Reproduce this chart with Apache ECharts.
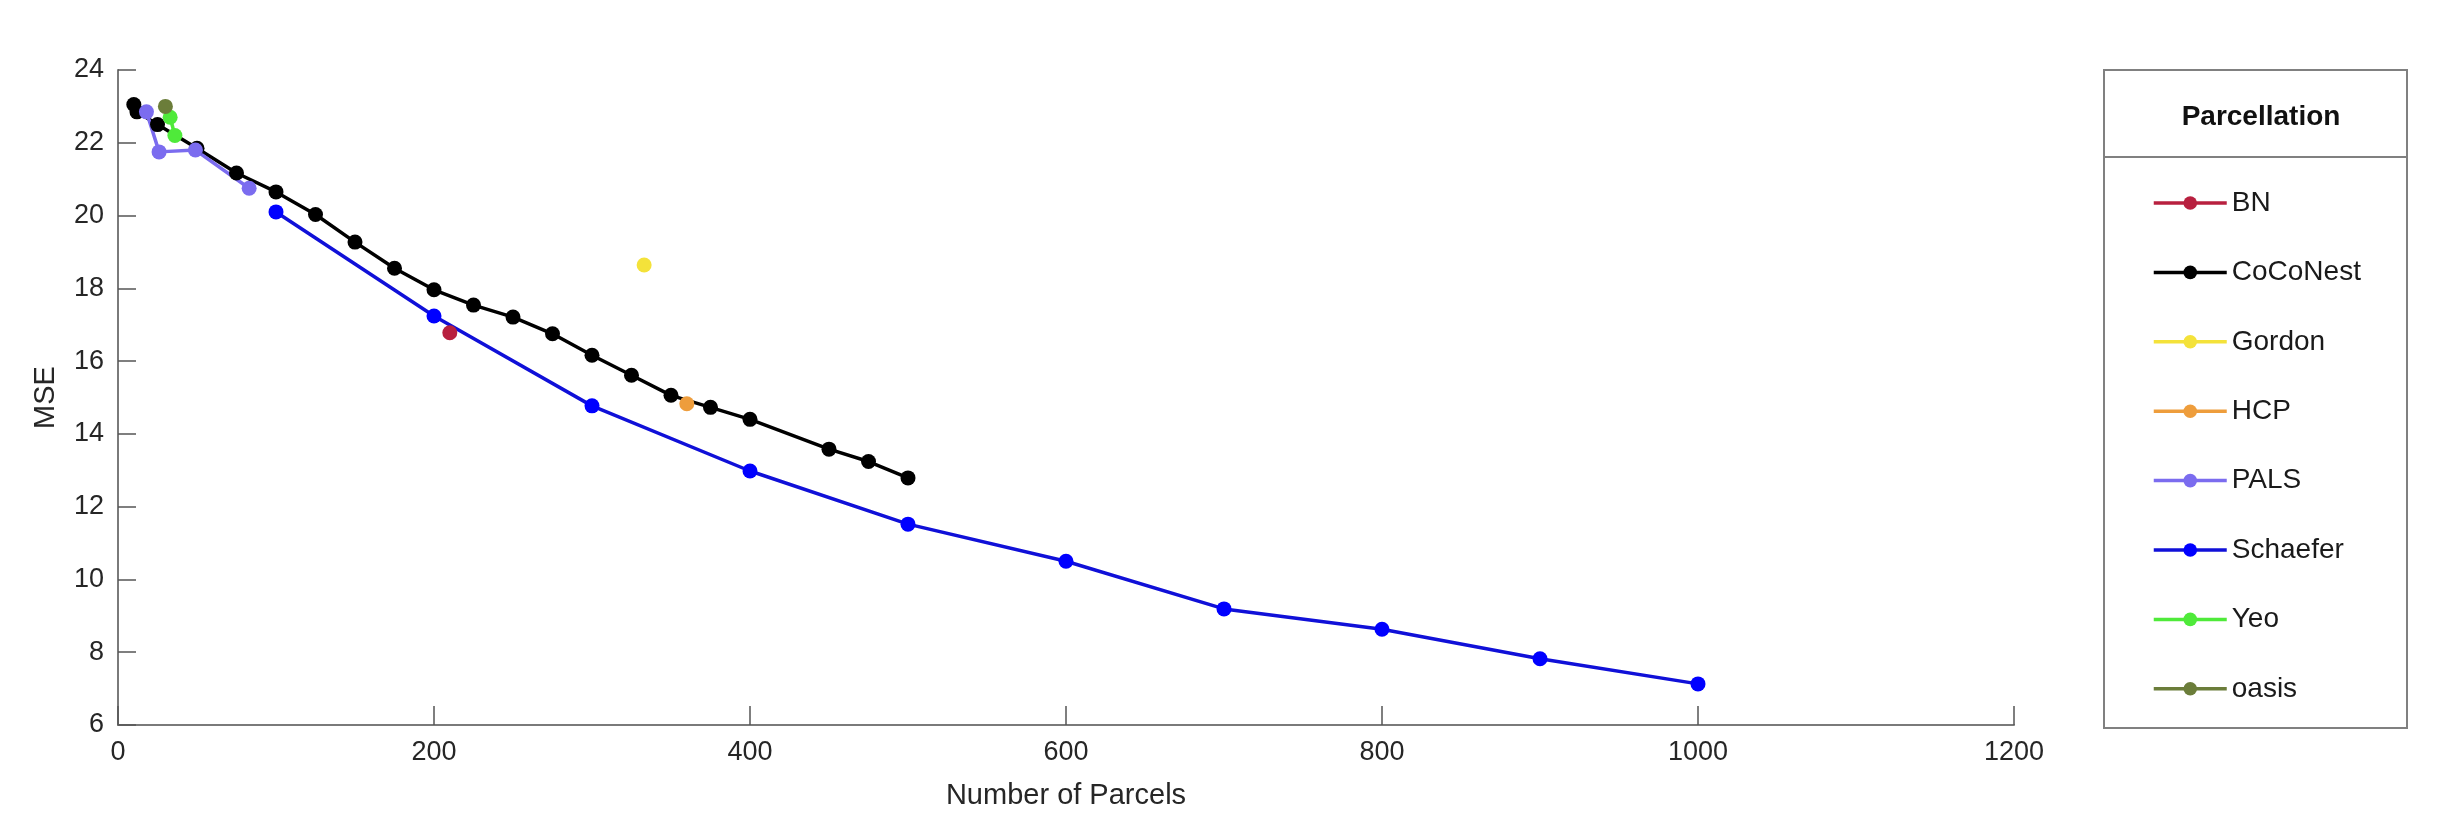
<!DOCTYPE html>
<html>
<head>
<meta charset="utf-8">
<script src="https://cdn.jsdelivr.net/npm/echarts@6/dist/echarts.min.js"></script>
<style>
  html, body { margin: 0; padding: 0; background: #fff; }
  #mse-chart { width: 2464px; height: 828px; }
</style>
</head>
<body>
<div id="mse-chart"></div>
<script>
// ==============================================================
// MSE vs number of parcels, per parcellation
// ==============================================================
var legendNames = ['BN', 'CoCoNest', 'Gordon', 'HCP', 'PALS', 'Schaefer', 'Yeo', 'oasis'];

var cocoX = [10, 12, 25, 50, 75, 100, 125, 150, 175, 200, 225, 250, 275, 300, 325, 350, 375, 400, 450, 475, 500];
var cocoY = [23.05, 22.85, 22.5, 21.85, 21.17, 20.65, 20.03, 19.27, 18.55, 17.96, 17.54, 17.21, 16.75, 16.16, 15.61, 15.06, 14.73, 14.4, 13.58, 13.24, 12.79];

var schaeferX = [100, 200, 300, 400, 500, 600, 700, 800, 900, 1000];
var schaeferY = [20.1, 17.24, 14.77, 12.98, 11.52, 10.5, 9.19, 8.63, 7.82, 7.13];

var palsX = [18, 26, 49, 83];
var palsY = [22.85, 21.75, 21.8, 20.75];

var yeoX = [33, 36];
var yeoY = [22.7, 22.2];

var bnX = [210], bnY = [16.78];
var gordonX = [333], gordonY = [18.64];
var hcpX = [360], hcpY = [14.83];
var oasisX = [30], oasisY = [23.0];

var xTicks = { min: 0, max: 1200, interval: 200 };
var yTicks = { min: 6, max: 24, interval: 2 };

function pairs(xs, ys) {
    return xs.map(function (x, i) { return [x, ys[i]]; });
}

function lineSeries(name, xs, ys, color) {
    return {
        name: name,
        type: 'line',
        data: pairs(xs, ys),
        symbol: 'circle',
        symbolSize: 15,
        showSymbol: true,
        lineStyle: { color: color, width: 3.5 },
        itemStyle: { color: color },
        emphasis: { disabled: true },
        animation: false
    };
}

var myChart = echarts.init(document.getElementById('mse-chart'));

var axisFont = 'Liberation Sans, Arial, Helvetica, sans-serif';

option = {
    backgroundColor: '#ffffff',
    title: {
        text: 'Parcellation',
        left: 2256,
        top: 98,
        textAlign: 'center',
        textStyle: { fontFamily: axisFont, fontSize: 28, fontWeight: 'bold', color: '#111' }
    },
    legend: {
        data: legendNames,
        orient: 'vertical',
        left: 2147,
        top: 184,
        itemWidth: 73,
        itemHeight: 17,
        itemGap: 41.4,
        lineStyle: { width: 3.5 },
        textStyle: { fontFamily: axisFont, fontSize: 28, color: '#1a1a1a' },
        selectedMode: false
    },
    graphic: [
        {
            type: 'rect',
            shape: { x: 2104, y: 70, width: 303, height: 658 },
            style: { fill: 'none', stroke: '#808080', lineWidth: 2 },
            silent: true
        },
        {
            type: 'line',
            shape: { x1: 2104, y1: 157, x2: 2407, y2: 157 },
            style: { stroke: '#808080', lineWidth: 2 },
            silent: true
        }
    ],
    grid: { left: 118, right: 450, top: 70, bottom: 103, containLabel: false },
    xAxis: {
        type: 'value',
        min: xTicks.min,
        max: xTicks.max,
        interval: xTicks.interval,
        name: 'Number of Parcels',
        nameLocation: 'middle',
        nameGap: 56,
        nameTextStyle: { fontFamily: axisFont, fontSize: 29, color: '#262626' },
        axisLine: { lineStyle: { color: '#7a7a7a', width: 2 } },
        axisTick: { inside: true, length: 19, lineStyle: { color: '#555', width: 1.5 } },
        axisLabel: {
            fontFamily: axisFont, fontSize: 27, color: '#262626', margin: 14,
            formatter: function (v) { return String(v); }
        },
        splitLine: { show: false }
    },
    yAxis: {
        type: 'value',
        min: yTicks.min,
        max: yTicks.max,
        interval: yTicks.interval,
        name: 'MSE',
        nameLocation: 'middle',
        nameGap: 58,
        nameRotate: 90,
        nameTextStyle: { fontFamily: axisFont, fontSize: 29, color: '#262626' },
        axisLine: { show: true, lineStyle: { color: '#7a7a7a', width: 2 } },
        axisTick: { show: true, inside: true, length: 18, lineStyle: { color: '#555', width: 1.5 } },
        axisLabel: { fontFamily: axisFont, fontSize: 27, color: '#262626', margin: 14 },
        splitLine: { show: false }
    },
    series: [
        lineSeries('CoCoNest', cocoX, cocoY, '#000000'),
        lineSeries('Schaefer', schaeferX, schaeferY, '#1010d8'),
        lineSeries('PALS', palsX, palsY, '#7b6cef'),
        lineSeries('BN', bnX, bnY, '#b8203f'),
        lineSeries('Gordon', gordonX, gordonY, '#f4e23a'),
        lineSeries('HCP', hcpX, hcpY, '#ee9d3c'),
        lineSeries('Yeo', yeoX, yeoY, '#4fea3a'),
        lineSeries('oasis', oasisX, oasisY, '#6b7d3a')
    ]
};

// Schaefer markers are a purer blue than its line
option.series[1].itemStyle.color = '#0000ff';

myChart.setOption(option, true);
</script>
</body>
</html>
